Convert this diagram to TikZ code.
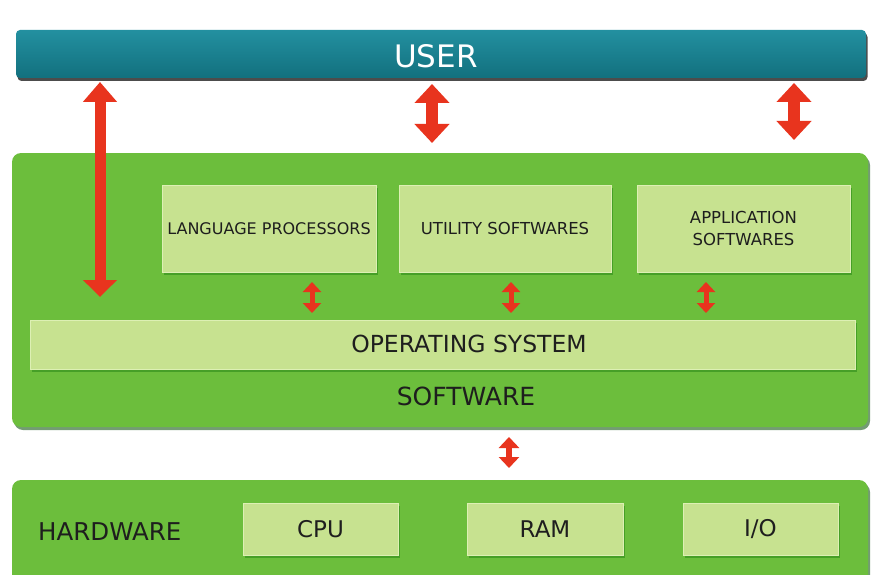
\documentclass[tikz,border=0pt]{standalone}
\usepackage{fontspec}
\setmainfont{DejaVu Sans}
\usetikzlibrary{arrows.meta,shadows}
\definecolor{teal1}{HTML}{2390A0}
\definecolor{teal2}{HTML}{12707E}
\definecolor{grn}{HTML}{6CBE3C}
\definecolor{grnl}{HTML}{C7E290}
\definecolor{grnedge}{HTML}{DDF0B4}
\definecolor{arr}{HTML}{E8341E}
\definecolor{txt}{HTML}{1E1E1E}
\tikzset{
  layer/.style={fill=grn, rounded corners=9pt, inner sep=0pt, outer sep=0pt, anchor=north west,
    drop shadow={shadow xshift=2pt, shadow yshift=-3pt, opacity=0.55, fill=black!70!green}},
  subbox/.style={fill=grnl, draw=grnedge, line width=1pt, inner sep=0pt, outer sep=0pt, anchor=north west,
    text=txt, align=center,
    drop shadow={shadow xshift=2pt, shadow yshift=-2.5pt, opacity=0.35, fill=black!60!green}},
  userbar/.style={top color=teal1, bottom color=teal2, rounded corners=4pt, inner sep=0pt, outer sep=0pt,
    anchor=north west, text=white,
    drop shadow={shadow xshift=1.5pt, shadow yshift=-3pt, opacity=0.7, fill=black}},
  lbl/.style={text=txt, inner sep=0pt},
  bigarrow/.style={draw=arr, line width=12pt,
    {Triangle[width=34pt,length=19pt]}-{Triangle[width=34pt,length=19pt]}},
  longarrow/.style={draw=arr, line width=11pt,
    -{Triangle[width=33pt,length=20pt]}},
  smallarrow/.style={draw=arr, line width=5pt,
    {Triangle[width=18pt,length=10pt]}-{Triangle[width=18pt,length=10pt]}},
  midarrow/.style={draw=arr, line width=5.5pt,
    {Triangle[width=20pt,length=11pt]}-{Triangle[width=20pt,length=11pt]}},
}
\begin{document}
\begin{tikzpicture}[x=1pt,y=-1pt]
\useasboundingbox[fill=white] (0,0) rectangle (875,575);

% USER bar
\node[userbar, minimum width=850pt, minimum height=48pt] (user) at (16,30) {};
\node[text=white, font=\fontsize{31}{31}\selectfont] (usert) at (436,56) {USER};

% SOFTWARE layer
\node[layer, minimum width=856pt, minimum height=274pt] (soft) at (12,153) {};
\node[subbox, minimum width=214pt, minimum height=87pt, font=\fontsize{16}{20}\selectfont] (lp) at (162,185) {LANGUAGE PROCESSORS};
\node[subbox, minimum width=212pt, minimum height=87pt, font=\fontsize{16.5}{20}\selectfont] (ut) at (399,185) {UTILITY SOFTWARES};
\node[subbox, minimum width=213pt, minimum height=87pt, font=\fontsize{16.5}{21.5}\selectfont] (ap) at (637,185) {APPLICATION\\SOFTWARES};
\node[subbox, minimum width=825pt, minimum height=49pt, font=\fontsize{23.5}{24}\selectfont] (os) at (30,320) {\hspace*{0pt}};
\node[lbl, font=\fontsize{23.5}{24}\selectfont] (ost) at (469,344) {OPERATING SYSTEM};
\node[lbl, font=\fontsize{25}{25}\selectfont] (swt) at (466,396) {SOFTWARE};

% HARDWARE layer
\node[layer, minimum width=856pt, minimum height=110pt] (hard) at (12,480) {};
\node[lbl, font=\fontsize{24.5}{25}\selectfont, anchor=west] (hwt) at (38,532) {HARDWARE};
\node[subbox, minimum width=155pt, minimum height=52pt, font=\fontsize{23}{24}\selectfont] (cpu) at (243,503) {CPU};
\node[subbox, minimum width=156pt, minimum height=52pt, font=\fontsize{23}{24}\selectfont] (ram) at (467,503) {RAM};
\node[subbox, minimum width=155pt, minimum height=52pt, font=\fontsize{23}{24}\selectfont] (io) at (683,503) {I/O};

% arrow end points
\coordinate (a1t) at (100,82);
\coordinate (a1b) at (100,297);
\coordinate (a2t) at (432,84);
\coordinate (a2b) at (432,143);
\coordinate (a3t) at (794,83);
\coordinate (a3b) at (794,140);
\coordinate (s1t) at (312,282);
\coordinate (s1b) at (312,313);
\coordinate (s2t) at (511,282);
\coordinate (s2b) at (511,313);
\coordinate (s3t) at (706,282);
\coordinate (s3b) at (706,313);
\coordinate (m1t) at (509,437);
\coordinate (m1b) at (509,468);

\draw[longarrow, {Triangle[width=33pt,length=20pt]}-{Triangle[width=33pt,length=17pt]}] (a1t) -- (a1b);
\draw[bigarrow] (a2t) -- (a2b);
\draw[bigarrow] (a3t) -- (a3b);
\draw[smallarrow] (s1t) -- (s1b);
\draw[smallarrow] (s2t) -- (s2b);
\draw[smallarrow] (s3t) -- (s3b);
\draw[midarrow] (m1t) -- (m1b);
\end{tikzpicture}
\end{document}
